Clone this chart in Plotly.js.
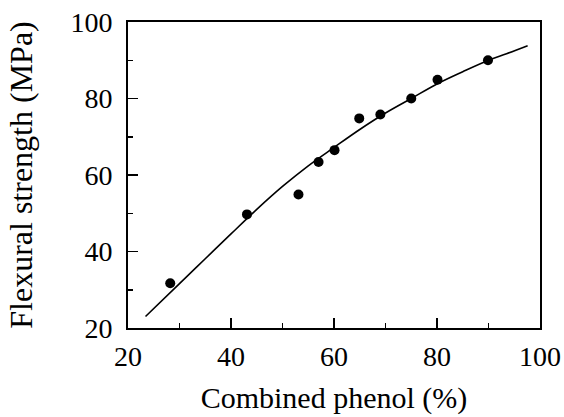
<!DOCTYPE html>
<html>
<head>
<meta charset="utf-8">
<script src="https://cdn.plot.ly/plotly-3.0.1.min.js"></script>
<style>html,body{margin:0;padding:0;background:#fff;}#chart{width:564px;height:417px;}</style>
</head>
<body>
<div id="chart"></div>
<script>
// Measured data points
const phenolX = [28.2, 43.1, 53.1, 57.0, 60.1, 64.9, 69.0, 75.0, 80.1, 89.9];
const strengthY = [31.7, 49.7, 54.9, 63.4, 66.5, 74.8, 75.8, 80.0, 84.9, 90.0];
// Fitted curve
const curveX = [23.4, 30, 35, 40, 45, 50, 55, 60, 65, 70, 75, 80, 85, 90, 93.5, 97.6];
const curveY = [23.0, 31.6, 38.1, 44.6, 51.0, 57.0, 62.4, 67.2, 71.9, 76.2, 80.0, 83.8, 87.0, 90.0, 91.7, 93.8];
const xTicks = [20, 40, 60, 80, 100];
const yTicks = [20, 40, 60, 80, 100];

const fontFam = '"Liberation Serif", "Times New Roman", serif';

const traces = [
  {x: curveX, y: curveY, mode: 'lines', type: 'scatter', line: {color: '#000', width: 1.6, shape: 'spline'}, hoverinfo: 'skip'},
  {x: phenolX, y: strengthY, mode: 'markers', type: 'scatter', marker: {color: '#000', size: 10}}
];

const axisCommon = {
  showline: true, mirror: true, linecolor: '#000', linewidth: 2,
  ticks: 'inside', ticklen: 10, tickwidth: 1.5, tickcolor: '#000',
  showgrid: false, zeroline: false,
  tickfont: {family: fontFam, size: 28, color: '#000'},
  minor: {ticks: 'inside', ticklen: 5, tickwidth: 1.5, tickcolor: '#000', dtick: 10, showgrid: false}
};

const layout = {
  width: 564, height: 417,
  margin: {l: 128, r: 24, t: 22, b: 89},
  paper_bgcolor: '#fff', plot_bgcolor: '#fff',
  showlegend: false,
  xaxis: Object.assign({}, axisCommon, {
    range: [20, 100], tickvals: xTicks, ticktext: xTicks.map(String),
    ticklabelstandoff: 2,
    title: {text: 'Combined phenol (%)', font: {family: fontFam, size: 30, color: '#000'}, standoff: 16}
  }),
  yaxis: Object.assign({}, axisCommon, {
    range: [20, 100], tickvals: yTicks, ticktext: yTicks.map(String),
    ticklabelstandoff: 8,
    title: {text: 'Flexural strength (MPa)', font: {family: fontFam, size: 32, color: '#000'}, standoff: 28}
  })
};

Plotly.newPlot('chart', traces, layout, {staticPlot: true, displayModeBar: false});
</script>
</body>
</html>
